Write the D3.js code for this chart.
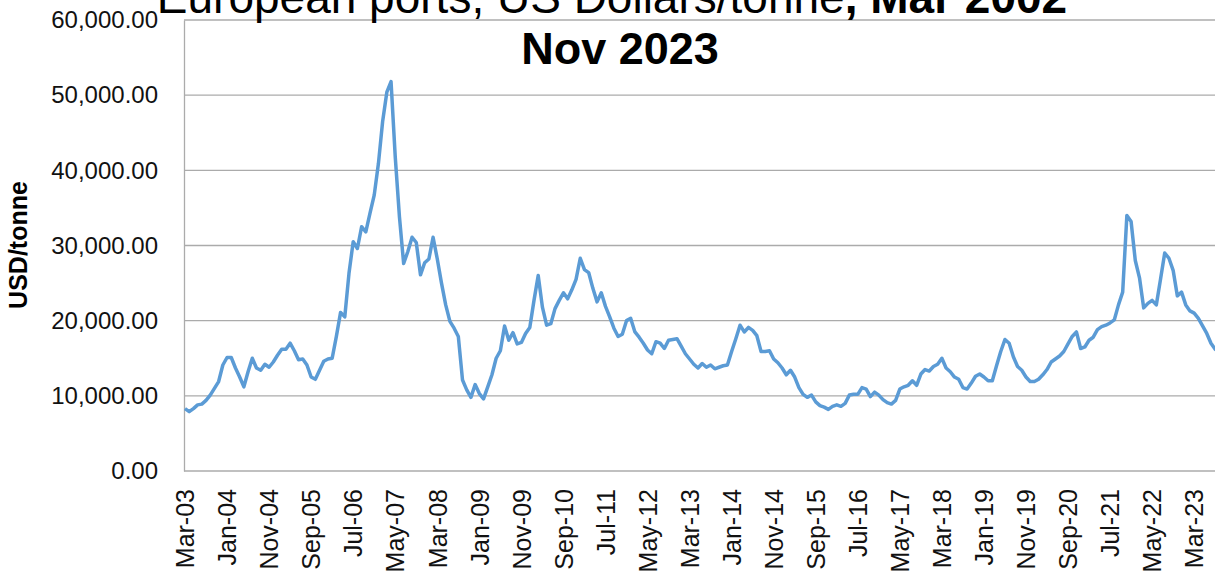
<!DOCTYPE html>
<html>
<head>
<meta charset="utf-8">
<script src="https://cdn.jsdelivr.net/npm/d3@7"></script>
<style>
  body { margin: 0; overflow: hidden; background: #fff; }
  svg { display: block; font-family: "Liberation Sans", Arial, sans-serif; }
</style>
</head>
<body>
<svg id="chart"></svg>
<script>
// MONTHLY PRICES, USD/tonne //
const p2003 = [8300, 7900, 8300, 8800, 8900, 9400, 10100, 11000, 11900, 14100]
const p2004 = [15100, 15100, 13700, 12500, 11200, 13200, 15000, 13700, 13400, 14200, 13800, 14500]
const p2005 = [15400, 16200, 16200, 17000, 16000, 14800, 14900, 14100, 12500, 12200, 13400, 14600]
const p2006 = [14900, 15000, 17900, 21100, 20500, 26300, 30500, 29600, 32500, 31800, 34300, 36700]
const p2007 = [40900, 46500, 50400, 51800, 41800, 33800, 27600, 29200, 31100, 30400, 26100, 27700]
const p2008 = [28200, 31100, 28200, 25000, 22100, 19900, 19000, 17900, 12100, 10800, 9800, 11500]
const p2009 = [10300, 9600, 11200, 12800, 15000, 16000, 19300, 17400, 18400, 16900, 17100, 18300]
const p2010 = [19100, 22700, 26000, 21800, 19400, 19600, 21600, 22700, 23700, 22900, 24100, 25500]
const p2011 = [28300, 26800, 26400, 24300, 22500, 23700, 21900, 20500, 19000, 17900, 18200, 20000]
const p2012 = [20300, 18500, 17800, 17000, 16100, 15600, 17200, 17000, 16300, 17400, 17500, 17600]
const p2013 = [16600, 15600, 14900, 14200, 13700, 14300, 13800, 14100, 13600, 13800, 14000, 14100]
const p2014 = [15900, 17600, 19400, 18500, 19100, 18700, 18000, 15900, 15900, 16000, 14900, 14400]
const p2015 = [13700, 12800, 13400, 12500, 11100, 10200, 9800, 10100, 9200, 8700, 8500, 8200]
const p2016 = [8600, 8800, 8600, 9000, 10100, 10200, 10200, 11100, 10900, 9900, 10500, 10100]
const p2017 = [9500, 9100, 8900, 9400, 10900, 11200, 11400, 12000, 11400, 12900, 13500, 13300]
const p2018 = [13900, 14200, 15000, 13700, 13200, 12500, 12200, 11100, 10900, 11700, 12600, 12900]
const p2019 = [12500, 12000, 12000, 14000, 15900, 17500, 17000, 15200, 13900, 13400, 12500, 11900]
const p2020 = [11900, 12200, 12800, 13500, 14500, 14900, 15300, 15900, 16900, 17900, 18500, 16300]
const p2021 = [16500, 17400, 17800, 18800, 19200, 19400, 19700, 20100, 22100, 23800, 34000, 33200]
const p2022 = [28000, 25700, 21700, 22300, 22700, 22100, 25500, 29000, 28300, 26700, 23300, 23800]
const p2023 = [22100, 21300, 21000, 20300, 19300, 18300, 17000, 16200, 15800, 15500, 15300]

const tickLabels = ["Mar-03", "Jan-04", "Nov-04", "Sep-05", "Jul-06", "May-07", "Mar-08", "Jan-09",
    "Nov-09", "Sep-10", "Jul-11", "May-12", "Mar-13", "Jan-14", "Nov-14", "Sep-15", "Jul-16",
    "May-17", "Mar-18", "Jan-19", "Nov-19", "Sep-20", "Jul-21", "May-22", "Mar-23"]
const yTicks = [0, 10000, 20000, 30000, 40000, 50000, 60000]

const prices = [].concat(p2003, p2004, p2005, p2006, p2007, p2008, p2009, p2010, p2011, p2012,
    p2013, p2014, p2015, p2016, p2017, p2018, p2019, p2020, p2021, p2022, p2023)

// month categories Mar-03 .. Nov-23
const fmt = d3.timeFormat("%b-%y")
const months = d3.timeMonth.range(new Date(2003, 2, 1), new Date(2023, 11, 2)).map(fmt)

// DRAW //
const W = 1240, H = 577
const plotLeft = 184, plotRight = 1232, plotTop = 20, plotBottom = 471

const svg = d3.select('#chart').attr('width', W).attr('height', H)

const x = d3.scalePoint().domain(months).range([plotLeft + 1, plotRight])
const y = d3.scaleLinear().domain([0, 60000]).range([plotBottom, plotTop])

// gridlines
svg.append('g')
    .selectAll('line')
    .data(yTicks.slice(1))
    .enter()
    .append('line')
    .attr('x1', plotLeft)
    .attr('x2', W)
    .attr('y1', d => y(d))
    .attr('y2', d => y(d))
    .attr('stroke', '#ababab')
    .attr('stroke-width', 1.3)

// y axis
const yAxis = svg.append('g')
    .attr('transform', `translate(${plotLeft},0)`)
    .call(d3.axisLeft(y).tickValues(yTicks).tickSize(0).tickPadding(26)
        .tickFormat(d => d3.format(',.2f')(d)))
yAxis.select('.domain').attr('stroke', '#ababab').attr('stroke-width', 1.3)
yAxis.selectAll('text')
    .attr('font-size', 24)
    .attr('fill', '#111')

// x axis
const xAxis = svg.append('g')
    .attr('transform', `translate(0,${plotBottom})`)
    .call(d3.axisBottom(x).tickValues(tickLabels).tickSize(0).tickSizeOuter(0))
xAxis.select('.domain').attr('stroke', '#ababab').attr('stroke-width', 1.3)
    .attr('d', `M${plotLeft},0H${W}`)
xAxis.selectAll('text')
    .attr('font-size', 25)
    .attr('fill', '#111')
    .attr('text-anchor', 'end')
    .attr('transform', 'rotate(-90)')
    .attr('x', -18)
    .attr('y', 0)
    .attr('dy', '0.35em')

// price line
svg.append('path')
    .datum(prices)
    .attr('fill', 'none')
    .attr('stroke', '#5b9bd5')
    .attr('stroke-width', 3.5)
    .attr('stroke-linejoin', 'round')
    .attr('d', d3.line().x((d, i) => x(months[i])).y(d => y(d)))

// axis title
svg.append('text')
    .attr('transform', 'translate(27,245) rotate(-90)')
    .attr('text-anchor', 'middle')
    .attr('font-size', 25)
    .attr('font-weight', 'bold')
    .attr('fill', '#000')
    .text('USD/tonne')

// chart title
const title = svg.append('text')
    .attr('x', 612)
    .attr('y', 13)
    .attr('text-anchor', 'middle')
    .attr('font-size', 46)
    .attr('fill', '#000')
title.append('tspan').text('European ports, US Dollars/tonne')
title.append('tspan').attr('font-weight', 'bold').text(', Mar 2002')

svg.append('text')
    .attr('x', 620)
    .attr('y', 64)
    .attr('text-anchor', 'middle')
    .attr('font-size', 45)
    .attr('font-weight', 'bold')
    .attr('fill', '#000')
    .text('Nov 2023')
</script>
</body>
</html>
